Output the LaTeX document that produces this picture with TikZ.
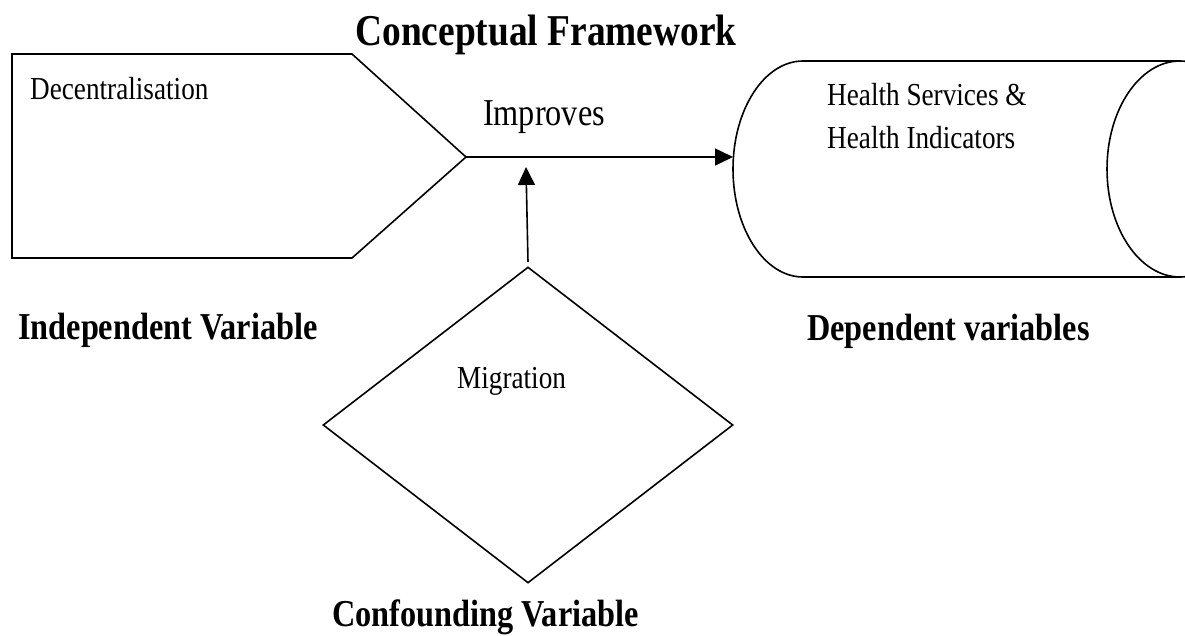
\documentclass[tikz,border=0pt]{standalone}
\usepackage{fontspec}
\setmainfont{Liberation Serif}[FakeStretch=0.85]
\usetikzlibrary{arrows.meta,shapes.geometric}

\begin{document}
\begin{tikzpicture}[x=1pt,y=-1pt,
	shp/.style={line width=1.6pt, line join=miter},
	arr/.style={line width=1.6pt, -{Triangle[length=18pt,width=17pt]}},
	hdr/.style={inner sep=0pt, font=\bfseries\fontsize{38}{44}\selectfont},
	txt/.style={inner sep=0pt, font=\fontsize{32}{43}\selectfont}]
	\useasboundingbox (0,0) rectangle (1185,635);
	\clip (0,0) rectangle (1185,635);
	
	% independent side
	\draw[shp] (12,54) -- (352,54) -- (466,157) coordinate (dec) -- (352,258) -- (12,258) -- cycle;
	\node[txt, anchor=base west] (dectxt) at (30,99) {Decentralisation};
	
	% dependent side
	\draw[shp] (1180,61) -- (803,61) arc[start angle=270, end angle=90, x radius=70, y radius=108] -- (1180,277);
	\draw[shp] (1180,169) ellipse[x radius=73, y radius=108];
	\coordinate (hlth) at (733,157);
	\node[txt, anchor=north west, align=left] (hlthtxt) at (827,83) {Health Services \&\\Health Indicators};
	
	% confounder
	\node[shp, draw, diamond, minimum width=410pt, minimum height=316pt, inner sep=0pt] (mig) at (528,425) {};
	\node[txt, anchor=base west] (migtxt) at (457,388) {Migration};
	\coordinate (link) at (526,167);
	
	\draw[arr] (dec) -- (hlth);
	\draw[arr] ([yshift=4pt]mig.north) -- (link);
	
	\node[anchor=base, inner sep=0pt, font=\bfseries\fontsize{44}{50}\selectfont] (ttl) at (546,45) {Conceptual Framework};
	\node[anchor=base, inner sep=0pt, font=\fontsize{38}{44}\selectfont] (imp) at (544,125) {Improves};
	\node[hdr, anchor=base west] (indep) at (18,339) {Independent Variable};
	\node[hdr, anchor=base west] (dep) at (807,340) {Dependent variables};
	\node[hdr, anchor=base west] (conf) at (332,626) {Confounding Variable};
\end{tikzpicture}
\end{document}
